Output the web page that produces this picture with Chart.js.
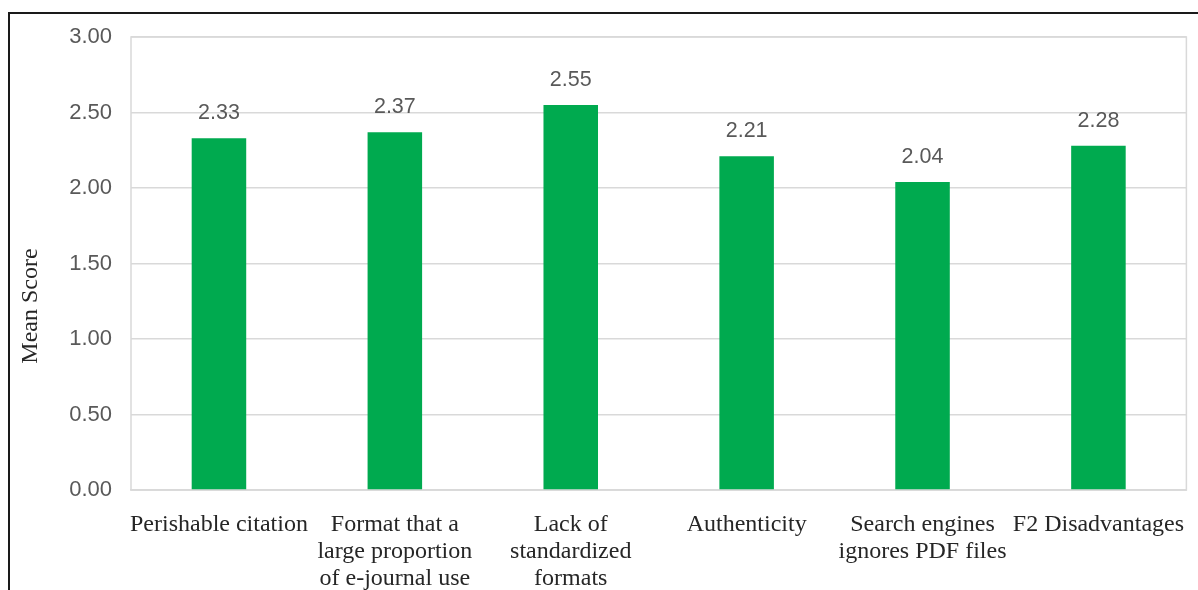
<!DOCTYPE html>
<html>
<head>
<meta charset="utf-8">
<script src="https://cdn.jsdelivr.net/npm/chart.js@4/dist/chart.umd.min.js"></script>
<style>
  html, body { margin: 0; padding: 0; background: #fff; }
  #wrap { position: relative; width: 1198px; height: 590px; overflow: hidden; }
  #frame { position: absolute; left: 8px; top: 12px; width: 1300px; height: 700px;
           border-left: 2px solid #1a1a1a; border-top: 2px solid #1a1a1a; pointer-events: none; }
  canvas { position: absolute; left: 0; top: 0; }
</style>
</head>
<body>
<div id="wrap">
  <canvas id="chart" width="1198" height="590"></canvas>
  <div id="frame"></div>
</div>
<script>
// Survey items (x categories, wrapped over lines)
const categories = [
  "Perishable citation",
  ["Format that a", "large proportion", "of e-journal use"],
  ["Lack of", "standardized", "formats"],
  "Authenticity",
  ["Search engines", "ignores PDF files"],
  "F2 Disadvantages"
];
// Mean score per item
const meanScores = [2.33, 2.37, 2.55, 2.21, 2.04, 2.28];
// Value axis settings
const yMin = 0, yMax = 3, yStep = 0.5;
const yTitle = "Mean Score";

const serif = "'Liberation Serif', 'Times New Roman', serif";
const sans = "'Liberation Sans', Arial, sans-serif";

// Frame around the plot area (left, top, right)
const plotFrame = {
  id: 'plotFrame',
  beforeDatasetsDraw(chart) {
    const { ctx, chartArea: a } = chart;
    ctx.save();
    ctx.strokeStyle = '#d9d9d9';
    ctx.lineWidth = 1.5;
    ctx.strokeRect(a.left, a.top, a.right - a.left, a.bottom - a.top);
    ctx.restore();
  }
};

// Value labels above the bars
const valueLabels = {
  id: 'valueLabels',
  afterDatasetsDraw(chart) {
    const { ctx } = chart;
    const meta = chart.getDatasetMeta(0);
    ctx.save();
    ctx.font = '21.5px ' + sans;
    ctx.fillStyle = '#595959';
    ctx.textAlign = 'center';
    ctx.textBaseline = 'middle';
    meta.data.forEach((bar, i) => {
      ctx.fillText(meanScores[i].toFixed(2), bar.x, bar.y - 25);
    });
    ctx.restore();
  }
};

// Rotated axis title, centred on plot top to label bottom
const axisTitle = {
  id: 'axisTitle',
  afterDraw(chart) {
    const { ctx, chartArea: a } = chart;
    ctx.save();
    ctx.translate(31, (a.top + chart.height - 15) / 2);
    ctx.rotate(-Math.PI / 2);
    ctx.font = '24px ' + serif;
    ctx.fillStyle = '#262626';
    ctx.textAlign = 'center';
    ctx.textBaseline = 'middle';
    ctx.fillText(yTitle, 0, 0);
    ctx.restore();
  }
};

new Chart(document.getElementById('chart'), {
  type: 'bar',
  data: {
    labels: categories,
    datasets: [{
      data: meanScores,
      backgroundColor: '#00aa4f',
      borderWidth: 0,
      categoryPercentage: 1,
      barPercentage: 0.31
    }]
  },
  options: {
    responsive: false,
    animation: false,
    events: [],
    layout: { padding: { top: 37, right: 11, left: 0, bottom: 0 } },
    plugins: { legend: { display: false }, tooltip: { enabled: false } },
    scales: {
      x: {
        grid: { display: false },
        border: { display: true, color: '#d9d9d9', width: 1.5 },
        ticks: {
          color: '#262626',
          font: { family: serif, size: 24, lineHeight: 1.125 },
          padding: 13,
          maxRotation: 0,
          autoSkip: false
        },
        afterFit(scale) { scale.height = 100; }
      },
      y: {
        min: yMin, max: yMax,
        grid: { color: '#d9d9d9', lineWidth: 1.5, drawTicks: false },
        border: { display: false },
        ticks: {
          stepSize: yStep,
          color: '#595959',
          font: { family: sans, size: 22 },
          padding: 19,
          callback: v => Number(v).toFixed(2)
        },
        afterFit(scale) { scale.width = 131; }
      }
    }
  },
  plugins: [plotFrame, valueLabels, axisTitle]
});
</script>
</body>
</html>
